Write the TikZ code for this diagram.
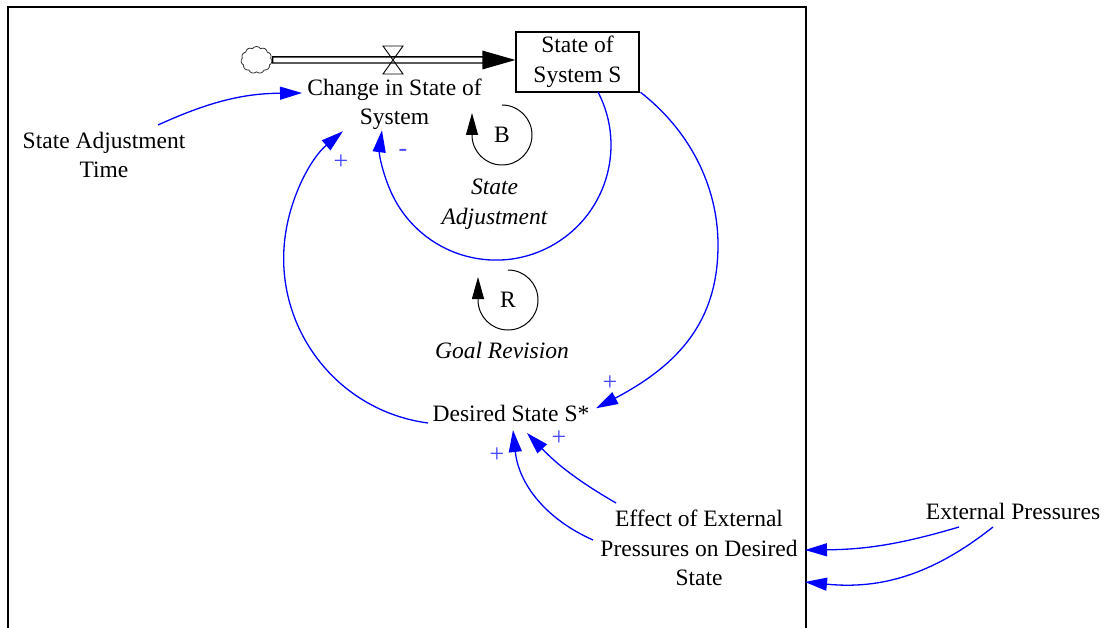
\documentclass[tikz,border=0pt]{standalone}
\usepackage{fontspec}
\setmainfont{Liberation Serif}
\usetikzlibrary{arrows.meta,shapes.symbols,calc}
\definecolor{linkblue}{RGB}{0,0,255}
\definecolor{signblue}{RGB}{70,70,255}
\begin{document}
\begin{tikzpicture}[x=1pt,y=1pt,
  every node/.style={font=\fontsize{23.5}{29.5}\selectfont, inner sep=2pt},
  var/.style={align=center},
  loopname/.style={align=center, font=\fontsize{23.5}{29.5}\selectfont\itshape},
  sign/.style={text=signblue, inner sep=0pt, font=\fontsize{26}{26}\selectfont},
  link/.style={draw=linkblue, line width=1.3pt, -{Triangle[length=22pt,width=13pt]}},
  looparrow/.style={line width=1pt, -{Triangle[length=22pt,width=12pt]}}]
\useasboundingbox (0,0) rectangle (1107,-628);
\clip (0,0) rectangle (1107,-628);

% model frame
\draw[line width=1.6pt] (8,-650) -- (8,-7) -- (806,-7) -- (806,-650);

% stock and source
\node[draw, line width=1.3pt, minimum width=123pt, minimum height=60pt,
      align=center, inner sep=0pt] (stock) at (577.5,-62) {State of\\System S};
\node[cloud, draw=black!80, line width=0.8pt, cloud puffs=11, cloud puff arc=110,
      aspect=1.2, minimum width=31pt, minimum height=27pt, inner sep=0pt]
      (src) at (256.5,-60) {};

% flow pipe with valve
\draw[line width=7.5pt] (src.east) -- ([xshift=-30pt,yshift=2pt]stock.west);
\draw[white, line width=4.6pt] ([xshift=1.2pt]src.east) -- ([xshift=-30pt,yshift=2pt]stock.west);
\fill ([yshift=2pt]stock.west) -- ++(-33,9.5) -- ++(0,-19) -- cycle;
\coordinate (valve) at (393,-60);
\draw[line width=0.9pt] ($(valve)+(-10,14)$) -- ++(20,0) -- ($(valve)+(-10,-14)$) -- ++(20,0) -- cycle;

% variables
\node[var] (chg) at (394.5,-104.5) {Change in State of\\System};
\node[var] (sat) at (104,-155) {State Adjustment\\Time};
\node[var] (des) at (511,-413) {Desired State S*};
\node[var] (eff) at (699,-548) {Effect of External\\Pressures on Desired\\State};
\node[var] (ext) at (1013,-511) {External Pressures};

% loop markers
\node (B) at (502,-135) {B};
\draw[looparrow] ([yshift=30pt]B.center) arc[start angle=90, end angle=-180, radius=30] -- ++(0,22);
\node[loopname] (bname) at (494.5,-204) {State\\Adjustment};
\node (R) at (508,-300) {R};
\draw[looparrow] ([yshift=30pt]R.center) arc[start angle=90, end angle=-180, radius=30] -- ++(0,23);
\node[loopname] (rname) at (502,-350) {Goal Revision};

% causal links
\draw[link] ([shift={(54,30)}]sat.center) to[bend left=12] ([shift={(-92.5,11.5)}]chg.center);
\draw[link] ([shift={(20.5,-30)}]stock.center) arc[start angle=27.5, end angle=-187.4, radius=115];
\draw[link] ([shift={(63,-30.3)}]stock.center) .. controls (688.3,-129.4) and (718,-184.7) .. (718,-245)
            .. controls (718,-320) and (680.1,-364) .. ([shift={(85,4.7)}]des.center);
\draw[link] ([shift={(-83,-10)}]des.center) arc[start angle=262.5, end angle=130, radius=166];
\draw[link] ([shift={(-83,45)}]eff.center) to[bend left=8] ([shift={(16,-20)}]des.center);
\draw[link] ([shift={(-106,8)}]eff.center) to[bend left=30] ([shift={(2,-17)}]des.center);
\draw[link] ([shift={(-54,-16)}]ext.center) to[bend left=8] ([shift={(106,-2)}]eff.center);
\draw[link] ([shift={(-20,-16)}]ext.center) to[bend left=22] ([shift={(106,-34)}]eff.center);

% polarities
\node[sign] (p1) at (341,-162) {+};
\node[sign] (m1) at (403,-153) {-};
\node[sign] (p2) at (610,-383) {+};
\node[sign] (p3) at (559,-438) {+};
\node[sign] (p4) at (497,-455) {+};
\end{tikzpicture}
\end{document}
